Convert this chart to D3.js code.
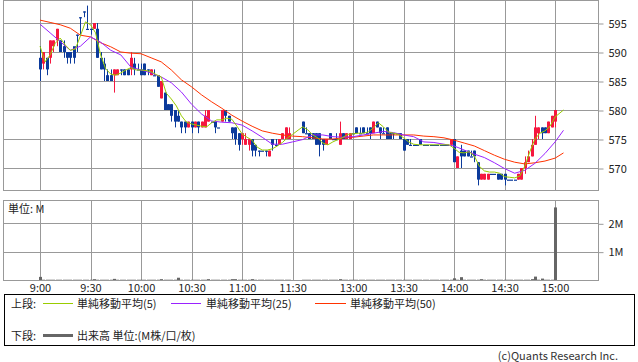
<!DOCTYPE html>
<html>
<head>
<meta charset="utf-8">
<script src="https://cdn.jsdelivr.net/npm/d3@7"></script>
<style>
body { margin: 0; background: #fff; }
svg text { font-family: "Noto Sans CJK JP", "Noto Sans", sans-serif; font-size: 11px; fill: #222; }
</style>
</head>
<body>
<div id="chart"></div>
<script>
var svgWidth = 638;
var svgHeight = 362;

var timeTicks = ["9:00", "9:30", "10:00", "10:30", "11:00", "11:30", "13:00", "13:30", "14:00", "14:30", "15:00"];
var priceTicks = [570, 575, 580, 585, 590, 595];
var volumeTicks = [1, 2];

// time slots "H:MM" from start to end
function slots(start, end, step) {
    var toMin = s => +s.split(":")[0] * 60 + +s.split(":")[1];
    var out = [];
    for (var m = toMin(start); m <= toMin(end); m += step) {
        out.push(Math.floor(m / 60) + ":" + String(m % 60).padStart(2, "0"));
    }
    return out;
}

// 2-minute candles, morning 9:00-11:28, afternoon 12:30-15:00
var barTimes = slots("9:00", "11:28", 2).concat(slots("12:30", "15:00", 2));

var barOpen = [
    589,588,589,589,591,592,592,591,590,590,591,593,596,597,594,
    594,594,594,589,588,586,586,586,586,587,587,587,587,588,587,
    587,588,587,586,586,586,582,583,581,581,580,579,578,578,577,
    578,577,578,577,577,578,578,578,577,578,580,579,577,577,576,
    575,574,574,575,574,573,573,573,572,575,574,574,575,575,575,
    // afternoon
    578,576,576,576,576,576,575,574,576,575,575,574,576,575,575,
    576,577,576,577,576,577,576,578,577,576,577,576,576,576,576,
    575,575,574,574,574,575,574,574,574,574,574,574,574,574,574,
    575,570,573,573,573,572,573,571,568,568,568,569,569,569,569,
    569,568,568,568,568,568,570,571,572,574,576,577,577,576,577,
    578
];
var barHigh = [
    591,590,589,592,592,594,592,592,590,590,590,593,596,597,598,
    594,595,595,590,589,587,587,587,587,587,587,587,590,589,588,
    588,588,587,587,587,586,585,583,581,581,580,580,578,578,578,
    578,578,578,578,580,580,578,578,577,580,580,579,577,577,576,
    576,576,575,575,574,573,573,573,573,575,575,575,576,577,577,
    // afternoon
    578,577,576,576,576,576,575,575,576,575,576,578,576,576,576,
    576,577,577,577,577,577,578,578,577,577,577,576,576,576,576,
    575,575,575,574,574,575,574,574,574,574,574,574,574,574,575,
    575,572,574,573,573,573,573,571,569,569,569,569,569,569,569,
    569,568,568,568,569,570,572,573,575,579,577,577,577,578,579,
    580
];
var barLow = [
    585,587,586,588,590,591,590,589,588,588,588,590,593,596,594,
    593,594,589,587,585,585,585,583,586,586,586,586,586,586,587,
    586,586,586,586,586,584,582,580,580,578,577,578,576,576,577,
    576,577,576,577,577,578,578,576,577,578,578,578,575,574,573,
    574,574,573,572,572,572,573,572,572,573,574,574,575,575,575,
    // afternoon
    576,576,575,575,574,572,573,574,575,575,575,574,575,575,575,
    576,576,576,576,576,575,576,577,575,576,575,575,575,576,575,
    573,574,574,574,574,574,574,574,574,574,574,574,574,574,574,
    571,570,570,572,572,572,571,567,568,568,568,569,569,568,568,
    567,568,568,568,568,568,569,571,572,574,575,575,576,576,577,
    577
];
var barClose = [
    587,590,587,592,592,594,590,590,589,589,589,593,596,597,594,
    594,595,589,587,587,585,585,587,587,587,586,586,589,587,587,
    586,586,587,587,586,584,585,580,580,579,578,578,577,577,578,
    577,578,577,578,579,580,578,577,577,580,579,578,576,575,574,
    576,575,575,573,573,573,573,573,573,574,574,575,576,577,576,
    // afternoon
    576,576,575,575,574,574,574,575,575,575,575,576,575,576,576,
    576,576,576,576,576,576,578,577,576,576,575,575,576,576,575,
    573,574,574,574,574,574,574,574,574,574,574,574,574,574,575,
    571,572,572,572,572,572,572,568,569,569,569,569,569,568,568,
    568,568,568,568,569,570,571,572,574,577,577,576,576,578,579,
    580
];
// volume, millions
var barVolume = [
    0.11,0.01,0.01,0.01,0.01,0.01,0.01,0.01,0.01,0.01,0.01,0.01,0.01,0.01,0.01,
    0.01,0.03,0.01,0.01,0.01,0.01,0.01,0.04,0.01,0.01,0.01,0.01,0.01,0.01,0.01,
    0.01,0.01,0.01,0.01,0.01,0.01,0.03,0.01,0.01,0.01,0.01,0.08,0.01,0.01,0.01,
    0.01,0.01,0.01,0.01,0.01,0.03,0.01,0.01,0.01,0.01,0.01,0.01,0.03,0.03,0.01,
    0.01,0.01,0.01,0.03,0.01,0.01,0.01,0.01,0.01,0.01,0.01,0.01,0.01,0.01,0.01,
    // afternoon
    0.01,0.01,0.01,0.01,0.01,0.01,0.01,0.01,0.01,0.01,0.01,0.03,0.01,0.01,0.01,
    0.01,0.01,0.01,0.01,0.01,0.01,0.01,0.01,0.01,0.01,0.01,0.01,0.01,0.01,0.01,
    0.01,0.01,0.01,0.01,0.01,0.01,0.01,0.01,0.01,0.01,0.01,0.01,0.01,0.01,0.01,
    0.06,0.01,0.10,0.01,0.01,0.01,0.01,0.01,0.03,0.01,0.01,0.01,0.01,0.01,0.01,
    0.01,0.01,0.01,0.01,0.01,0.01,0.01,0.01,0.03,0.12,0.01,0.05,0.01,0.01,0.01,
    2.56
];

// moving averages, read every 3 min (5) and every 6 min (25, 50)
var ma5Times = slots("9:00", "11:30", 3).concat(slots("12:30", "15:00", 3), ["15:05"]);
var ma5 = [
    591.0,588.3,589.5,591.5,592.4,591.2,590.3,590.5,592.8,595.2,594.7,593.3,589.5,587.1,586.2,586.0,586.4,586.9,587.3,586.9,
    586.9,586.8,586.6,586.1,585.7,582.9,581.9,580.7,579.0,577.9,577.6,577.4,577.2,577.1,577.8,578.3,578.3,578.6,578.4,577.2,
    575.9,575.3,574.8,573.6,573.1,573.1,573.3,573.8,574.4,575.2,575.8,
    577.1,576.6,575.7,575.2,574.3,574.0,574.5,574.9,575.3,575.8,575.9,576.0,576.0,576.2,576.9,577.8,577.1,576.2,576.0,575.8,
    575.2,574.5,574.1,574.0,574.0,574.0,574.0,574.0,574.0,574.0,573.4,572.7,572.6,572.8,572.1,570.3,569.5,569.3,569.3,569.1,
    568.5,568.4,568.3,568.6,570.3,572.8,575.0,576.0,576.4,577.2,578.8,580.0
];
var maTimes = slots("9:00", "11:30", 6).concat(slots("12:30", "15:00", 6), ["15:05"]);
var ma25 = [
    594.8,593.3,591.8,590.3,591.0,592.6,591.7,590.3,589.5,587.4,586.9,586.4,585.7,584.7,583.1,581.0,579.3,578.1,577.9,577.8,
    577.4,576.4,575.3,574.1,574.1,574.5,
    574.9,575.7,575.7,575.4,575.3,575.4,575.7,576.0,576.3,576.1,575.7,575.4,574.5,574.4,574.1,573.8,573.1,572.4,571.8,570.9,
    569.9,569.1,569.6,570.8,572.5,574.5,576.5
];
var ma50 = [
    595.5,595.1,594.7,594.1,592.9,592.6,591.6,590.9,590.0,589.8,589.7,589.0,588.3,586.9,585.2,584.0,582.6,581.4,580.3,579.1,
    578.1,577.2,576.4,576.0,575.7,575.5,
    575.4,575.2,575.0,575.0,575.2,575.3,575.5,575.7,575.7,575.7,575.7,575.7,575.5,575.4,575.2,574.8,574.3,573.8,573.0,572.2,
    571.5,571.0,570.7,570.9,571.2,571.7,572.6
];

// trading minutes: morning from 9:00, afternoon from 12:30 after a short gap
function toT(s) {
    var p = s.split(":"), m = +p[0] * 60 + +p[1];
    return m < 720 ? m - 540 : 156 + m - 750;
}

var left = 3, right = 598;
var priceTop = 0, priceBottom = 190;
var volTop = 200, volBottom = 280;
var gridColor = "#999";

var x = d3.scaleLinear().domain([-22, 331.5]).range([left, right]);
var y = d3.scaleLinear().domain([570, 595]).range([168, 23]);
var yVol = d3.scaleLinear().domain([0, 2]).range([volBottom, 223.3]);

var svg = d3.select("#chart")
    .append("svg")
    .attr("width", svgWidth)
    .attr("height", svgHeight);

svg.append("defs").append("clipPath").attr("id", "priceClip")
    .append("rect")
    .attr("x", left).attr("y", priceTop)
    .attr("width", right - left).attr("height", priceBottom - priceTop);

var crisp = v => Math.round(v) + 0.5;

// grids
function vGrid(top, bottom) {
    svg.append("g").selectAll("line")
        .data(timeTicks)
        .enter()
        .append("line")
        .attr("x1", d => crisp(x(toT(d))))
        .attr("x2", d => crisp(x(toT(d))))
        .attr("y1", top).attr("y2", bottom)
        .attr("stroke", gridColor);
}
vGrid(priceTop, priceBottom);
vGrid(volTop, volBottom);

svg.append("g").selectAll("line")
    .data(priceTicks)
    .enter()
    .append("line")
    .attr("x1", left).attr("x2", right)
    .attr("y1", d => crisp(y(d))).attr("y2", d => crisp(y(d)))
    .attr("stroke", gridColor);

svg.append("g").selectAll("line")
    .data(volumeTicks)
    .enter()
    .append("line")
    .attr("x1", left).attr("x2", right)
    .attr("y1", d => crisp(yVol(d))).attr("y2", d => crisp(yVol(d)))
    .attr("stroke", gridColor);

// candles
var bars = barTimes.map(function(t, i) {
    return { t: toT(t), o: barOpen[i], h: barHigh[i], l: barLow[i], c: barClose[i], v: barVolume[i] };
});
var candleGroup = svg.append("g").attr("clip-path", "url(#priceClip)");
var up = "#f5173f", down = "#0b3a9b";

candleGroup.selectAll(".wick")
    .data(bars)
    .enter()
    .append("line")
    .attr("x1", d => crisp(x(d.t)))
    .attr("x2", d => crisp(x(d.t)))
    .attr("y1", d => y(d.h))
    .attr("y2", d => y(d.l))
    .attr("stroke", d => d.c > d.o ? up : down);

candleGroup.selectAll(".body")
    .data(bars)
    .enter()
    .append("rect")
    .attr("x", d => Math.round(x(d.t)) - 1)
    .attr("width", 3)
    .attr("y", d => y(Math.max(d.o, d.c)))
    .attr("height", d => Math.max(1.2, Math.abs(y(d.o) - y(d.c))))
    .attr("fill", d => d.c > d.o ? up : down);

// moving averages
function maLine(times, values, color) {
    var pts = times.map((t, i) => [x(toT(t)), y(values[i])]);
    candleGroup.append("path")
        .attr("d", d3.line()(pts))
        .attr("fill", "none")
        .attr("stroke", color)
        .attr("stroke-width", 1);
}
maLine(maTimes, ma50, "#ff3300");
maLine(maTimes, ma25, "#9a22ff");
maLine(ma5Times, ma5, "#99cc00");

// volume bars
svg.append("g").selectAll("rect")
    .data(bars)
    .enter()
    .append("rect")
    .attr("x", d => Math.round(x(d.t)) - 1)
    .attr("width", 3)
    .attr("y", d => yVol(d.v))
    .attr("height", d => volBottom - yVol(d.v))
    .attr("fill", "#666");

// panel borders
svg.append("rect")
    .attr("x", left + 0.5).attr("y", priceTop + 0.5)
    .attr("width", right - left).attr("height", priceBottom - priceTop)
    .attr("fill", "none").attr("stroke", gridColor);
svg.append("rect")
    .attr("x", left + 0.5).attr("y", volTop + 0.5)
    .attr("width", right - left).attr("height", volBottom - volTop)
    .attr("fill", "none").attr("stroke", gridColor);

// axes
var priceAxis = svg.append("g")
    .attr("transform", `translate(${right + 0.5}, 0.5)`)
    .call(d3.axisRight(y).tickValues(priceTicks).tickSize(5).tickPadding(5));
var volAxis = svg.append("g")
    .attr("transform", `translate(${right + 0.5}, 0.5)`)
    .call(d3.axisRight(yVol).tickValues(volumeTicks).tickSize(5).tickPadding(5).tickFormat(d => d + "M"));
var timeAxis = svg.append("g")
    .attr("transform", `translate(0, ${volBottom})`)
    .call(d3.axisBottom(x).tickValues(timeTicks.map(toT)).tickSize(0).tickPadding(4)
        .tickFormat((d, i) => timeTicks[i]));

[priceAxis, volAxis, timeAxis].forEach(function(g) {
    g.select(".domain").remove();
    g.selectAll(".tick line").attr("stroke", gridColor);
    g.selectAll("text").attr("font-family", null).attr("font-size", null).attr("fill", null);
});

svg.append("text")
    .attr("x", 8).attr("y", 213)
    .text("単位: M");

// legend
svg.append("rect")
    .attr("x", 4.5).attr("y", 294.5)
    .attr("width", 630).attr("height", 51)
    .attr("fill", "none").attr("stroke", "#000");

var legendRow1 = [
    { x1: 43, x2: 73, tx: 77, color: "#99cc00", label: "単純移動平均(5)" },
    { x1: 171, x2: 201, tx: 206, color: "#9a22ff", label: "単純移動平均(25)" },
    { x1: 315, x2: 346, tx: 350, color: "#ff3300", label: "単純移動平均(50)" }
];
svg.append("text").attr("x", 11).attr("y", 307.5).text("上段:");
legendRow1.forEach(function(d) {
    svg.append("line")
        .attr("x1", d.x1).attr("x2", d.x2)
        .attr("y1", 303.5).attr("y2", 303.5)
        .attr("stroke", d.color);
    svg.append("text").attr("x", d.tx).attr("y", 307.5).text(d.label);
});

svg.append("text").attr("x", 11).attr("y", 339.5).text("下段:");
svg.append("line")
    .attr("x1", 43).attr("x2", 73)
    .attr("y1", 335.5).attr("y2", 335.5)
    .attr("stroke", "#666").attr("stroke-width", 3);
svg.append("text").attr("x", 77).attr("y", 339.5).text("出来高 単位:(M株/口/枚)");

svg.append("text")
    .attr("x", 618).attr("y", 360)
    .attr("text-anchor", "end")
    .style("fill", "#333")
    .text("(c)Quants Research Inc.");
</script>
</body>
</html>
